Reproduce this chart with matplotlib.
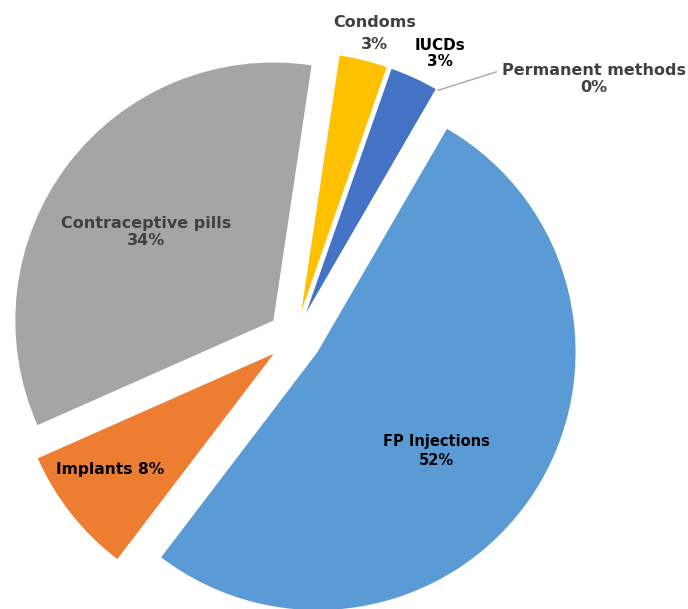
import numpy as np
import matplotlib
matplotlib.use("Agg")
import matplotlib.pyplot as plt

# datos del grafico (orden horario desde arriba)
metodos = ["Condoms", "IUCDs", "Permanent methods", "FP Injections", "Implants", "Contraceptive pills"]
porcentajes = [3, 3, 0, 52, 8, 34]
colores = ["#FFC000", "#4472C4", "#70AD47", "#5B9BD5", "#ED7D31", "#A5A5A5"]

fig = plt.figure(figsize=(6.88, 6.09), dpi=100)
ax = fig.add_axes([0, 0, 1, 1])

wedges, _ = ax.pie(porcentajes, colors=colores, explode=[0.105] * len(porcentajes),
                   startangle=81.5, counterclock=False, radius=1.0,
                   wedgeprops=dict(linewidth=0))

ax.set_xlim(-1.143, 1.523)
ax.set_ylim(-1.054, 1.306)
ax.axis("off")

# etiquetas: (distancia, corrimiento de angulo, texto, color, tamano, interlineado)
ajustes = {
    "Condoms": (1.11, -0.9, "Condoms\n3%", "#404040", 11.5, 1.55),
    "IUCDs": (1.128, -2.6, "IUCDs\n3%", "black", 11, 1.1),
    "FP Injections": (0.6, -6.0, "FP Injections\n52%", "black", 10.5, 1.3),
    "Implants": (0.775, -3.0, "Implants 8%", "black", 11.2, 1.15),
    "Contraceptive pills": (0.6, 2.5, "Contraceptive pills\n34%", "#404040", 11.5, 1.15),
}

for w, nombre in zip(wedges, metodos):
    if nombre not in ajustes:
        continue
    dist, dang, texto, col, tam, inter = ajustes[nombre]
    ang = np.deg2rad((w.theta1 + w.theta2) / 2 + dang)
    cx, cy = w.center
    ax.text(cx + dist * np.cos(ang), cy + dist * np.sin(ang), texto,
            color=col, fontsize=tam, fontweight="bold", ha="center", va="center",
            linespacing=inter)

# permanent methods con linea guia
wp = wedges[metodos.index("Permanent methods")]
ang = np.deg2rad(wp.theta1)
cx, cy = wp.center
px, py = cx + 1.0 * np.cos(ang), cy + 1.0 * np.sin(ang)
ax.annotate("Permanent methods\n0%", xy=(px, py), xytext=(1.159, 1.0),
            color="#404040", fontsize=11.5, fontweight="bold", ha="center", va="center",
            linespacing=1.15, annotation_clip=False,
            arrowprops=dict(arrowstyle="-", color="#A6A6A6", lw=1,
                            shrinkA=2, shrinkB=0, relpos=(0.0, 0.78)))

fig.savefig("out.png", dpi=100)
